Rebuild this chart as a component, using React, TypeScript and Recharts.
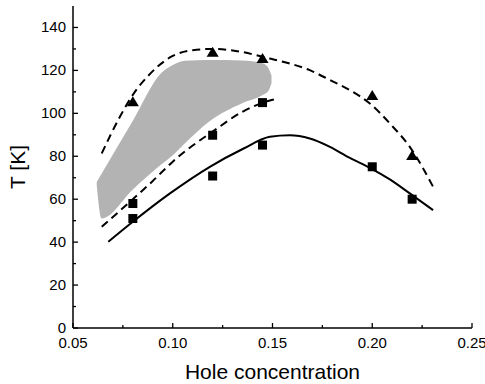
import { ComposedChart, Line, Scatter, Area, XAxis, YAxis } from "recharts";

// axis ticks (major ones get labels)
const xTicks = [0.05, 0.075, 0.1, 0.125, 0.15, 0.175, 0.2, 0.225, 0.25];
const yTicks = [0, 10, 20, 30, 40, 50, 60, 70, 80, 90, 100, 110, 120, 130, 140, 150];

// measured points
const triangles = [
  { x: 0.08, y: 105.4 },
  { x: 0.12, y: 128.5 },
  { x: 0.145, y: 125.6 },
  { x: 0.2, y: 108.3 },
  { x: 0.22, y: 80.3 },
];

const squares = [
  { x: 0.08, y: 58 },
  { x: 0.08, y: 51 },
  { x: 0.12, y: 89.8 },
  { x: 0.12, y: 70.8 },
  { x: 0.145, y: 105 },
  { x: 0.145, y: 85.2 },
  { x: 0.2, y: 75.1 },
  { x: 0.22, y: 60 },
];

// guide curves
const upperDash = [
  { x: 0.0644, y: 81.3 },
  { x: 0.0735, y: 98.4 },
  { x: 0.081, y: 110 },
  { x: 0.0877, y: 117.5 },
  { x: 0.0995, y: 126.5 },
  { x: 0.11, y: 129.4 },
  { x: 0.12, y: 130 },
  { x: 0.13, y: 129.3 },
  { x: 0.1487, y: 125.5 },
  { x: 0.1587, y: 123.2 },
  { x: 0.1687, y: 120.1 },
  { x: 0.1788, y: 115.5 },
  { x: 0.1888, y: 110.8 },
  { x: 0.1988, y: 104.6 },
  { x: 0.2088, y: 95.3 },
  { x: 0.2188, y: 84.4 },
  { x: 0.2314, y: 64.2 },
];

const lowerDash = [
  { x: 0.0644, y: 47.2 },
  { x: 0.08, y: 60 },
  { x: 0.09, y: 68.5 },
  { x: 0.1, y: 77.5 },
  { x: 0.11, y: 85 },
  { x: 0.12, y: 91.5 },
  { x: 0.1345, y: 100.5 },
  { x: 0.1487, y: 106 },
  { x: 0.1508, y: 106.5 },
];

const solidFit = [
  { x: 0.0677, y: 40.2 },
  { x: 0.08, y: 49.5 },
  { x: 0.0986, y: 62.7 },
  { x: 0.1186, y: 75.1 },
  { x: 0.1353, y: 83.5 },
  { x: 0.1487, y: 89.1 },
  { x: 0.1587, y: 89.8 },
  { x: 0.1687, y: 88.3 },
  { x: 0.1788, y: 84.4 },
  { x: 0.1888, y: 79.2 },
  { x: 0.1988, y: 74.6 },
  { x: 0.2088, y: 69.2 },
  { x: 0.2188, y: 62.7 },
  { x: 0.2305, y: 54.9 },
];

// grey band [low, high]
const shaded = [
  { x: 0.0619, range: [66.5, 68] },
  { x: 0.0644, range: [51, 72] },
  { x: 0.08, range: [64.5, 96.5] },
  { x: 0.094, range: [76, 118.5] },
  { x: 0.1, range: [80.5, 122.5] },
  { x: 0.106, range: [86, 124.5] },
  { x: 0.118, range: [96, 124.8] },
  { x: 0.1345, range: [104.6, 124.6] },
  { x: 0.145, range: [108.5, 123.3] },
  { x: 0.148, range: [110.5, 121] },
  { x: 0.1495, range: [114, 117.5] },
];

const FONT = "'Liberation Sans', Arial, sans-serif";

const isMajorX = (v: number) => Math.round(v * 1000) % 50 === 0;
const isMajorY = (v: number) => Math.round(v) % 20 === 0;

const BottomTick = (props: any) => {
  const { x, y, payload } = props;
  const major = isMajorX(payload.value);
  return (
    <g>
      <line x1={x} x2={x} y1={y} y2={y - (major ? 5 : 3)} stroke="#000" strokeWidth={1.3} />
      {major && (
        <text x={x} y={y + 20} textAnchor="middle" fontSize={15} fontFamily={FONT} fill="#000">
          {payload.value.toFixed(2)}
        </text>
      )}
    </g>
  );
};

const TopTick = (props: any) => {
  const { x, y, payload } = props;
  const major = isMajorX(payload.value);
  return <line x1={x} x2={x} y1={y} y2={y + (major ? 5 : 3)} stroke="#000" strokeWidth={1.3} />;
};

const LeftTick = (props: any) => {
  const { x, y, payload } = props;
  const major = isMajorY(payload.value);
  if (payload.value === 150) return null;
  return (
    <g>
      <line x1={x} x2={x + (major ? 5 : 3)} y1={y} y2={y} stroke="#000" strokeWidth={1.3} />
      {major && (
        <text x={x - 7} y={y + 5} textAnchor="end" fontSize={15} fontFamily={FONT} fill="#000">
          {payload.value}
        </text>
      )}
    </g>
  );
};

const RightTick = (props: any) => {
  const { x, y, payload } = props;
  if (payload.value === 150 || payload.value === 0) return null;
  const major = isMajorY(payload.value);
  return <line x1={x} x2={x - (major ? 5 : 3)} y1={y} y2={y} stroke="#000" strokeWidth={1.3} />;
};

const Triangle = (props: any) => {
  const { cx, cy } = props;
  return <polygon points={`${cx - 6},${cy + 4.5} ${cx + 6},${cy + 4.5} ${cx},${cy - 5.5}`} fill="#000" />;
};

const Square = (props: any) => {
  const { cx, cy } = props;
  return <rect x={cx - 4.5} y={cy - 4.5} width={9} height={9} fill="#000" />;
};

const axisLine = { stroke: "#000", strokeWidth: 1.5 };

export default function App() {
  return (
    <div style={{ position: "absolute", left: 0, top: 0, background: "#fff" }}>
      <ComposedChart width={485} height={384} margin={{ top: 6, right: 13, bottom: 0, left: 0 }}>
        <XAxis
          dataKey="x"
          type="number"
          domain={[0.05, 0.25]}
          ticks={xTicks}
          interval={0}
          height={56}
          tickSize={0}
          tickMargin={0}
          tickLine={false}
          axisLine={axisLine}
          tick={<BottomTick />}
          label={{
            value: "Hole concentration",
            position: "insideBottom",
            offset: 5,
            style: { fontSize: 21, fontFamily: FONT, fill: "#000" },
          }}
        />
        <XAxis
          xAxisId="top"
          orientation="top"
          dataKey="x"
          type="number"
          domain={[0.05, 0.25]}
          ticks={xTicks}
          interval={0}
          height={0}
          tickSize={0}
          tickMargin={0}
          tickLine={false}
          axisLine={axisLine}
          tick={<TopTick />}
        />
        <YAxis
          type="number"
          domain={[0, 150]}
          ticks={yTicks}
          interval={0}
          width={73}
          tickSize={0}
          tickMargin={0}
          tickLine={false}
          axisLine={axisLine}
          tick={<LeftTick />}
          label={{
            value: "T [K]",
            angle: -90,
            position: "insideLeft",
            offset: 18,
            style: { fontSize: 21, fontFamily: FONT, fill: "#000", textAnchor: "middle" },
          }}
        />
        <YAxis
          yAxisId="right"
          orientation="right"
          type="number"
          domain={[0, 150]}
          ticks={yTicks}
          interval={0}
          width={0}
          tickSize={0}
          tickMargin={0}
          tickLine={false}
          axisLine={axisLine}
          tick={<RightTick />}
        />
        <Area
          data={shaded}
          dataKey="range"
          type="monotone"
          fill="#b3b3b3"
          fillOpacity={1}
          stroke="none"
          isAnimationActive={false}
        />
        <Line
          data={upperDash}
          dataKey="y"
          type="monotone"
          stroke="#000"
          strokeWidth={2}
          strokeDasharray="8 5"
          dot={false}
          isAnimationActive={false}
        />
        <Line
          data={lowerDash}
          dataKey="y"
          type="monotone"
          stroke="#000"
          strokeWidth={2}
          strokeDasharray="8 5"
          dot={false}
          isAnimationActive={false}
        />
        <Line
          data={solidFit}
          dataKey="y"
          type="monotone"
          stroke="#000"
          strokeWidth={2}
          dot={false}
          isAnimationActive={false}
        />
        <Scatter data={triangles} dataKey="y" shape={<Triangle />} isAnimationActive={false} />
        <Scatter data={squares} dataKey="y" shape={<Square />} isAnimationActive={false} />
      </ComposedChart>
    </div>
  );
}
